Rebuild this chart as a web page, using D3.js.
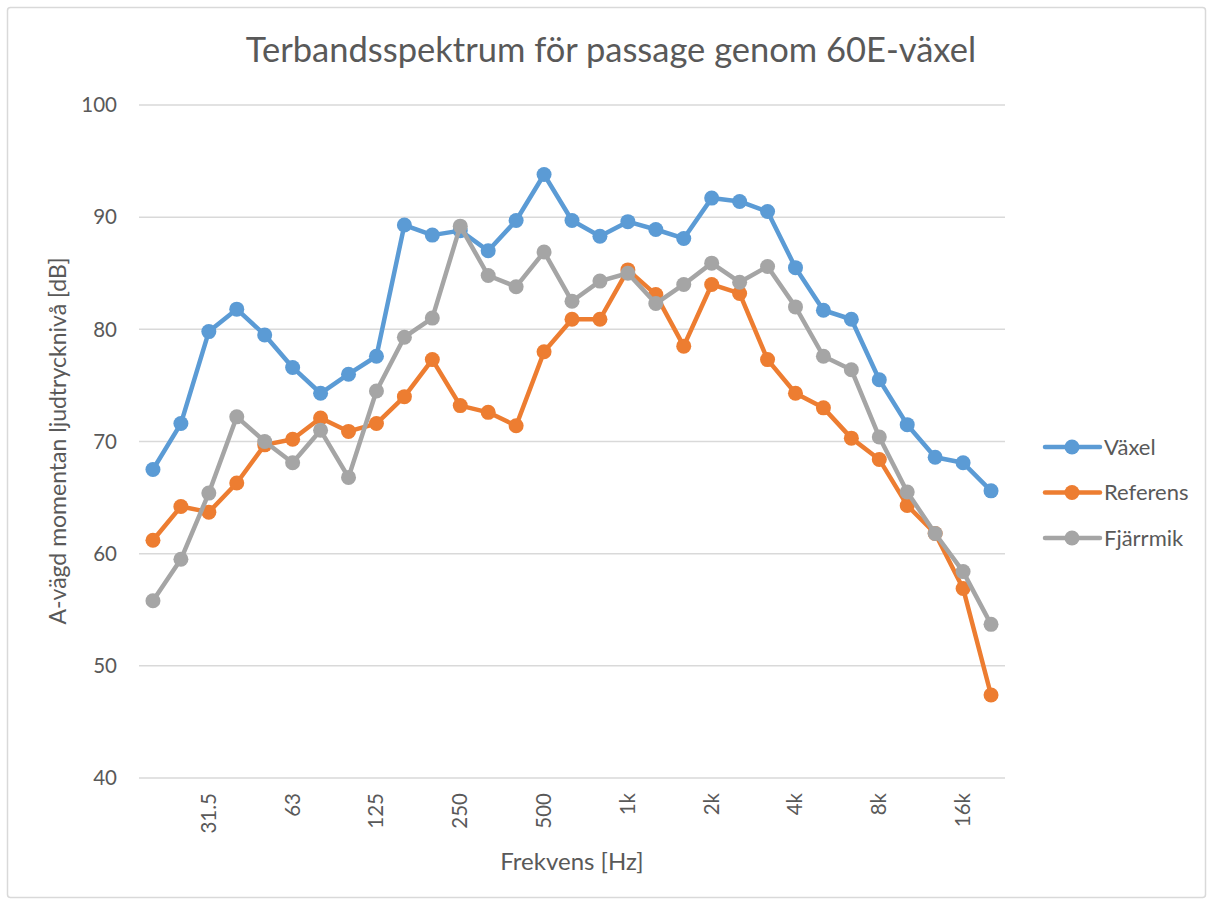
<!DOCTYPE html>
<html>
<head>
<meta charset="utf-8">
<script src="https://cdn.jsdelivr.net/npm/d3@7"></script>
<style>
  html, body { margin: 0; padding: 0; background: #fff; }
  svg text { font-family: Lato, "Open Sans", sans-serif; fill: #595959; }
</style>
</head>
<body>
<svg id="chart" width="1213" height="904"></svg>
<script>
// Third-octave bands, 20 Hz - 20 kHz
const bands = ["20", "25", "31.5", "40", "50", "63", "80", "100", "125", "160", "200", "250",
  "315", "400", "500", "630", "800", "1k", "1.25k", "1.6k", "2k", "2.5k", "3.15k", "4k",
  "5k", "6.3k", "8k", "10k", "12.5k", "16k", "20k"];

// Only every third band gets a label in the original
const shownTicks = ["31.5", "63", "125", "250", "500", "1k", "2k", "4k", "8k", "16k"];

const yTicks = [40, 50, 60, 70, 80, 90, 100];

const vaxel = [67.5, 71.6, 79.8, 81.8, 79.5, 76.6, 74.3, 76.0, 77.6, 89.3, 88.4, 88.8,
  87.0, 89.7, 93.8, 89.7, 88.3, 89.6, 88.9, 88.1, 91.7, 91.4, 90.5, 85.5,
  81.7, 80.9, 75.5, 71.5, 68.6, 68.1, 65.6];

const referens = [61.2, 64.2, 63.7, 66.3, 69.7, 70.2, 72.1, 70.9, 71.6, 74.0, 77.3, 73.2,
  72.6, 71.4, 78.0, 80.9, 80.9, 85.3, 83.1, 78.5, 84.0, 83.2, 77.3, 74.3,
  73.0, 70.3, 68.4, 64.3, 61.8, 56.9, 47.4];

const fjarrmik = [55.8, 59.5, 65.4, 72.2, 70.0, 68.1, 71.0, 66.8, 74.5, 79.3, 81.0, 89.2,
  84.8, 83.8, 86.9, 82.5, 84.3, 85.0, 82.3, 84.0, 85.9, 84.2, 85.6, 82.0,
  77.6, 76.4, 70.4, 65.5, 61.8, 58.4, 53.7];

const series = [
  { name: "Växel", values: vaxel, color: "#5B9BD5" },
  { name: "Referens", values: referens, color: "#ED7D31" },
  { name: "Fjärrmik", values: fjarrmik, color: "#A5A5A5" },
];

const svg = d3.select("#chart");

// Chart border
svg.append("rect")
  .attr("x", 7.5).attr("y", 7.5)
  .attr("width", 1198).attr("height", 890)
  .attr("rx", 3)
  .attr("fill", "#fff")
  .attr("stroke", "#d9d9d9")
  .attr("stroke-width", 1.5);

const plot = { left: 139, right: 1005, top: 105, bottom: 778 };

const x = d3.scaleBand()
  .domain(bands)
  .range([plot.left, plot.right]);

const y = d3.scaleLinear()
  .domain([40, 100])
  .range([plot.bottom, plot.top]);

// Gridlines
svg.append("g")
  .selectAll("line")
  .data(yTicks)
  .join("line")
  .attr("x1", plot.left)
  .attr("x2", plot.right)
  .attr("y1", d => y(d))
  .attr("y2", d => y(d))
  .attr("stroke", "#d9d9d9")
  .attr("stroke-width", 1.5);

// Y tick labels
svg.append("g")
  .selectAll("text")
  .data(yTicks)
  .join("text")
  .attr("x", 117)
  .attr("y", d => y(d))
  .attr("dy", "0.35em")
  .attr("text-anchor", "end")
  .attr("font-size", "20.5px")
  .text(d => d);

// X tick labels, rotated
svg.append("g")
  .selectAll("text")
  .data(shownTicks)
  .join("text")
  .attr("transform", d => `translate(${x(d) + x.bandwidth() / 2 + 7}, 793) rotate(-90)`)
  .attr("text-anchor", "end")
  .attr("font-size", "20.5px")
  .text(d => d);

// Title
svg.append("text")
  .attr("x", 611)
  .attr("y", 62)
  .attr("text-anchor", "middle")
  .attr("font-size", "34.5px")
  .text("Terbandsspektrum för passage genom 60E-växel");

// Axis titles
svg.append("text")
  .attr("x", 572)
  .attr("y", 870)
  .attr("text-anchor", "middle")
  .attr("font-size", "24px")
  .text("Frekvens [Hz]");

svg.append("text")
  .attr("transform", "translate(66, 441) rotate(-90)")
  .attr("text-anchor", "middle")
  .attr("font-size", "23px")
  .text("A-vägd momentan ljudtrycknivå [dB]");

// Lines and markers
const line = d3.line()
  .x((d, i) => x(bands[i]) + x.bandwidth() / 2)
  .y(d => y(d));

series.forEach(s => {
  const g = svg.append("g");
  g.append("path")
    .attr("d", line(s.values))
    .attr("fill", "none")
    .attr("stroke", s.color)
    .attr("stroke-width", 4.5)
    .attr("stroke-linejoin", "round")
    .attr("stroke-linecap", "round");

  g.selectAll("circle")
    .data(s.values)
    .join("circle")
    .attr("cx", (d, i) => x(bands[i]) + x.bandwidth() / 2)
    .attr("cy", d => y(d))
    .attr("r", 7.5)
    .attr("fill", s.color);
});

// Legend
const legend = svg.append("g");
series.forEach((s, i) => {
  const ly = 447 + i * 45.5;
  legend.append("line")
    .attr("x1", 1045).attr("x2", 1100)
    .attr("y1", ly).attr("y2", ly)
    .attr("stroke", s.color)
    .attr("stroke-width", 4.5)
    .attr("stroke-linecap", "round");
  legend.append("circle")
    .attr("cx", 1072).attr("cy", ly)
    .attr("r", 7.5)
    .attr("fill", s.color);
  legend.append("text")
    .attr("x", 1104)
    .attr("y", ly)
    .attr("dy", "0.35em")
    .attr("font-size", "22px")
    .text(s.name);
});
</script>
</body>
</html>
